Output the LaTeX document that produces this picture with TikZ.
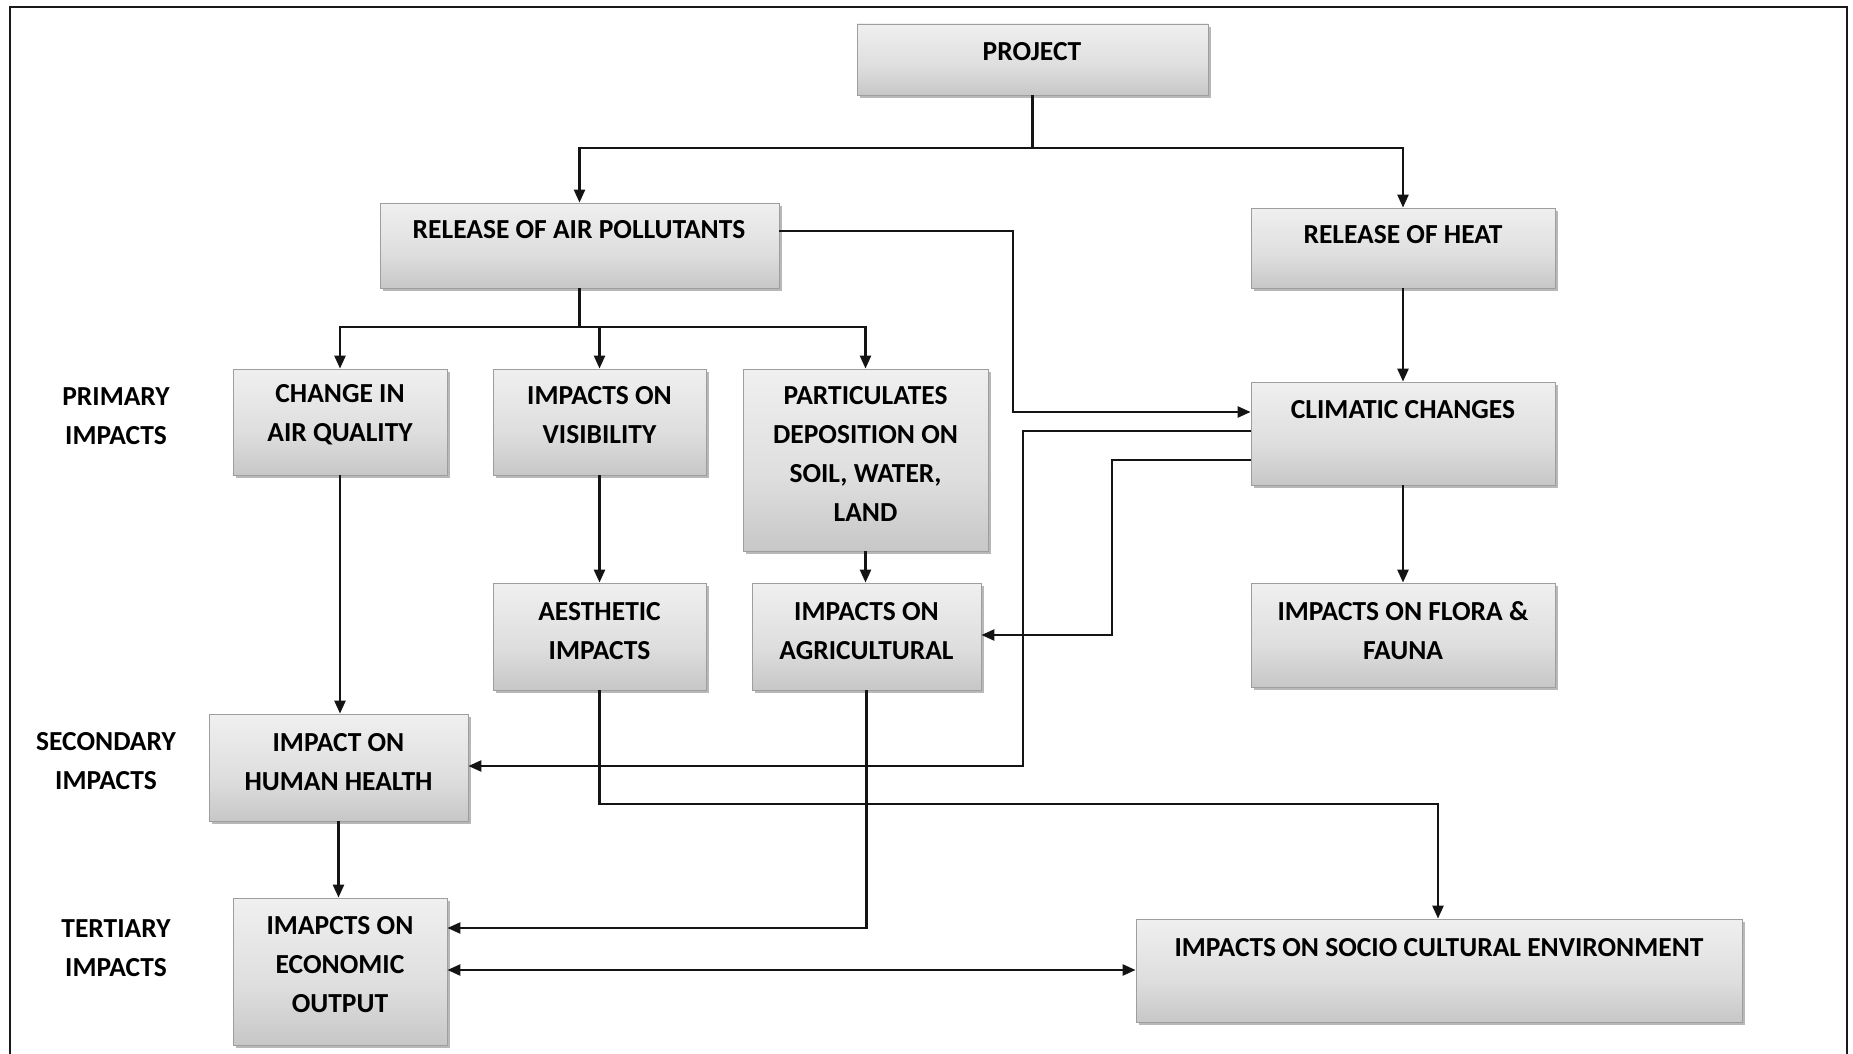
\documentclass[tikz,border=0pt]{standalone}
\usepackage{fontspec}
\setmainfont{Carlito}
\usetikzlibrary{arrows.meta,shadows}

% soft grey fill: darker at the bottom edge, nearly white towards the top
\pgfdeclareverticalshading{boxshade}{100bp}{color(0bp)=(black!45); color(7bp)=(black!30); color(45bp)=(black!13); color(88bp)=(black!3); color(95bp)=(black!6); color(100bp)=(black!22)}

\begin{document}
\begin{tikzpicture}[x=1pt,y=-1pt,
  box/.style={rectangle, draw=black!38, line width=0.8pt, shade, shading=boxshade, inner sep=0pt,
    drop shadow={shadow xshift=2.5pt, shadow yshift=-3pt, opacity=0.28, fill=black}},
  txt/.style={font=\fontsize{27.5}{39}\selectfont\bfseries, align=center, inner sep=0pt, text=black},
  conn/.style={line width=2.5pt, draw=black!92},
  arr/.style={conn, -{Triangle[length=13pt,width=11pt]}},
  darr/.style={conn, {Triangle[length=13pt,width=11pt]}-{Triangle[length=13pt,width=11pt]}}]

\useasboundingbox (0,0) rectangle (1853,1054);

% outer frame
\draw[line width=2.6pt, black!90] (10,1054) -- (10,7) -- (1847,7) -- (1847,1054);

% boxes
\node[box, minimum width=351pt, minimum height=71pt]  (proj)   at (1032.5,59.5) {};
\node[box, minimum width=399pt, minimum height=85pt]  (rap)    at (579.5,245.5) {};
\node[box, minimum width=304pt, minimum height=80pt]  (heat)   at (1403,248) {};
\node[box, minimum width=214pt, minimum height=106pt] (caq)    at (340,422) {};
\node[box, minimum width=213pt, minimum height=106pt] (vis)    at (599.5,422) {};
\node[box, minimum width=245pt, minimum height=182pt] (part)   at (865.5,460) {};
\node[box, minimum width=304pt, minimum height=103pt] (clim)   at (1403,433.5) {};
\node[box, minimum width=213pt, minimum height=107pt] (aes)    at (599.5,636.5) {};
\node[box, minimum width=229pt, minimum height=107pt] (agr)    at (866.5,636.5) {};
\node[box, minimum width=304pt, minimum height=104pt] (flora)  at (1403,635) {};
\node[box, minimum width=259pt, minimum height=107pt] (health) at (338.5,767.5) {};
\node[box, minimum width=214pt, minimum height=147pt] (econ)   at (340,971.5) {};
\node[box, minimum width=606pt, minimum height=103pt] (socio)  at (1439,970.5) {};

% box texts
\node[txt] (projt)   at (1032,52)    {PROJECT};
\node[txt] (rapt)    at (579,230)    {RELEASE OF AIR POLLUTANTS};
\node[txt] (heatt)   at (1403,235)   {RELEASE OF HEAT};
\node[txt] (caqt)    at (340,415)    {CHANGE IN\\AIR QUALITY};
\node[txt] (vist)    at (599.5,415)  {IMPACTS ON\\VISIBILITY};
\node[txt] (partt)   at (865.5,453.5){PARTICULATES\\DEPOSITION ON\\SOIL, WATER,\\LAND};
\node[txt] (climt)   at (1403,410)   {CLIMATIC CHANGES};
\node[txt] (aest)    at (599.5,631)  {AESTHETIC\\IMPACTS};
\node[txt] (agrt)    at (866.5,631)  {IMPACTS ON\\AGRICULTURAL};
\node[txt] (florat)  at (1403,630.5) {IMPACTS ON FLORA \&\\FAUNA};
\node[txt] (healtht) at (338.5,762)  {IMPACT ON\\HUMAN HEALTH};
\node[txt] (econt)   at (340,965)    {IMAPCTS ON\\ECONOMIC\\OUTPUT};
\node[txt] (sociot)  at (1439,948)   {IMPACTS ON SOCIO CULTURAL ENVIRONMENT};

% level labels
\node[txt] (lprim) at (116,416)   {PRIMARY\\IMPACTS};
\node[txt] (lsec)  at (106,761.5) {SECONDARY\\IMPACTS};
\node[txt] (lter)  at (116,948.5) {TERTIARY\\IMPACTS};

% junction and bend points
\coordinate (j1)  at (1032.5,148);
\coordinate (j2)  at (579.5,327);
\coordinate (k1)  at (1013,231);
\coordinate (k1b) at (1013,412);
\coordinate (k2)  at (1023,431);
\coordinate (k2b) at (1023,766);
\coordinate (k3)  at (1112,460);
\coordinate (k3b) at (1112,635);
\coordinate (k4)  at (599.5,804);
\coordinate (k4b) at (1438,804);
\coordinate (k5)  at (866.5,928);
\coordinate (k6)  at (447,970);

% connectors
\draw[conn] (proj.south) -- (j1);
\draw[arr] (j1) -| (rap.north);
\draw[arr] (j1) -| (heat.north);

\draw[conn] (rap.south) -- (j2);
\draw[arr] (j2) -| (caq.north);
\draw[arr] (j2) -| (vis.north);
\draw[arr] (j2) -| (part.north);

\draw[arr] (rap.east |- k1) -- (k1) -- (k1b) -- (clim.west |- k1b);
\draw[arr] (heat.south) -- (clim.north);
\draw[arr] (clim.south) -- (flora.north);
\draw[arr] (clim.west |- k2) -- (k2) -- (k2b) -- (health.east |- k2b);
\draw[arr] (clim.west |- k3) -- (k3) -- (k3b) -- (agr.east |- k3b);

\draw[arr] (caq.south) -- (caq.south |- health.north);
\draw[arr] (vis.south) -- (aes.north);
\draw[arr] (part.south) -- (part.south |- agr.north);

\draw[arr] (aes.south) -- (k4) -- (k4b) -- (k4b |- socio.north);
\draw[arr] (agr.south) -- (k5) -- (econ.east |- k5);
\draw[arr] (health.south) -- (health.south |- econ.north);
\draw[darr] (econ.east |- k6) -- (socio.west |- k6);

\end{tikzpicture}
\end{document}
